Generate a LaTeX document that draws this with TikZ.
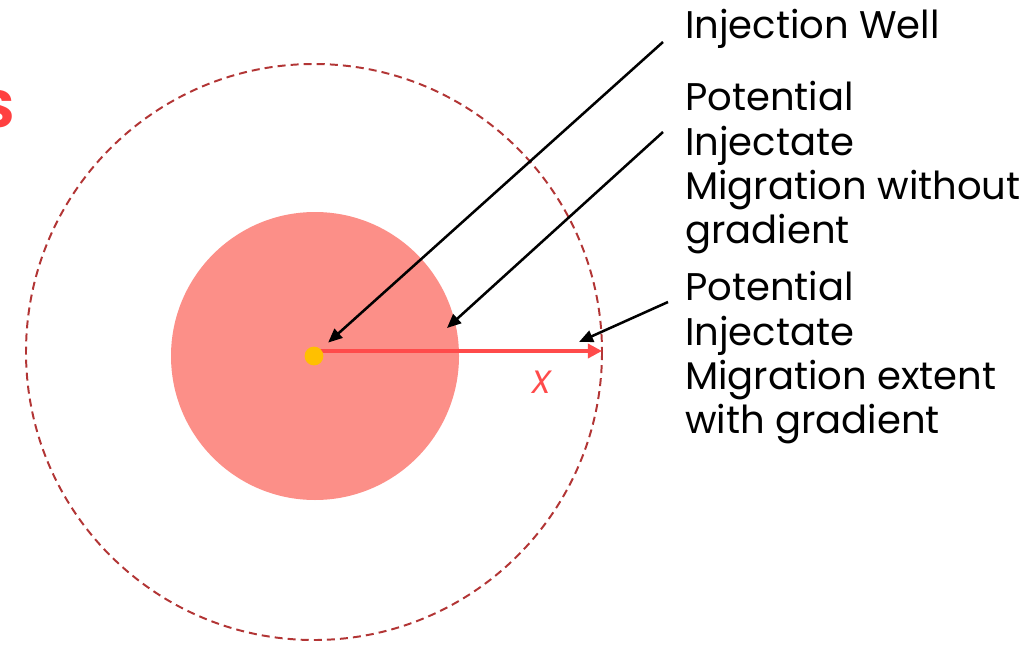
\documentclass[tikz,border=0pt]{standalone}
\usepackage{fontspec}
\setmainfont{Poppins}
\usetikzlibrary{arrows.meta}
\definecolor{plume}{HTML}{FC8F88}
\definecolor{extentred}{HTML}{B23535}
\definecolor{wellgold}{HTML}{FFC000}
\definecolor{xred}{HTML}{FF4B4B}
\definecolor{titlered}{HTML}{FF4040}

\begin{document}
\begin{tikzpicture}[x=0.025cm, y=-0.025cm,
    callout/.style={line width=1.8pt, -{Triangle[length=10pt,width=8.5pt]}},
    notetext/.style={anchor=north west, inner sep=0pt, align=left,
        font=\fontsize{27.4}{31.6}\selectfont}]
    \useasboundingbox (0,0) rectangle (1025,644);

    % Cut-off title letter at the left edge
    \node[anchor=base east, inner sep=0pt, text=titlered,
        font=\fontsize{37}{40}\selectfont\bfseries] (title) at (15,128) {S};

    % Migration extent with gradient
    \draw[extentred, line width=1.4pt, dash pattern=on 5.7pt off 3.6pt]
        (314,352) circle [radius=288];

    % Migration without gradient
    \fill[plume] (315,356) circle [radius=144];

    % Distance x
    \coordinate (xstart) at (316,351);
    \coordinate (xend) at (602,351);
    \draw[xred, line width=2.3pt, -{Triangle[length=10pt,width=10pt]}] (xstart) -- (xend);
    \node[text=xred, inner sep=0pt, font=\fontsize{23}{26}\selectfont\itshape] (xlabel) at (542,382) {X};

    % Injection well
    \node[circle, fill=wellgold, inner sep=0pt, minimum size=0.47cm] (well) at (314,356) {};

    % Labels
    \node[notetext] (welltext) at (685,9) {Injection Well};
    \node[notetext] (plumetext) at (685,81) {Potential\\Injectate\\Migration without\\gradient};
    \node[notetext] (extenttext) at (685,271) {Potential\\Injectate\\Migration extent\\with gradient};

    % Callouts
    \coordinate (welltail) at (663,42);
    \coordinate (plumetail) at (663,132);
    \coordinate (plumetip) at (447,328);
    \coordinate (extenttail) at (668,302);
    \coordinate (extenttip) at (579,342);
    \draw[callout, shorten >=7pt] (welltail) -- (well.north east);
    \draw[callout] (plumetail) -- (plumetip);
    \draw[callout] (extenttail) -- (extenttip);
\end{tikzpicture}
\end{document}
